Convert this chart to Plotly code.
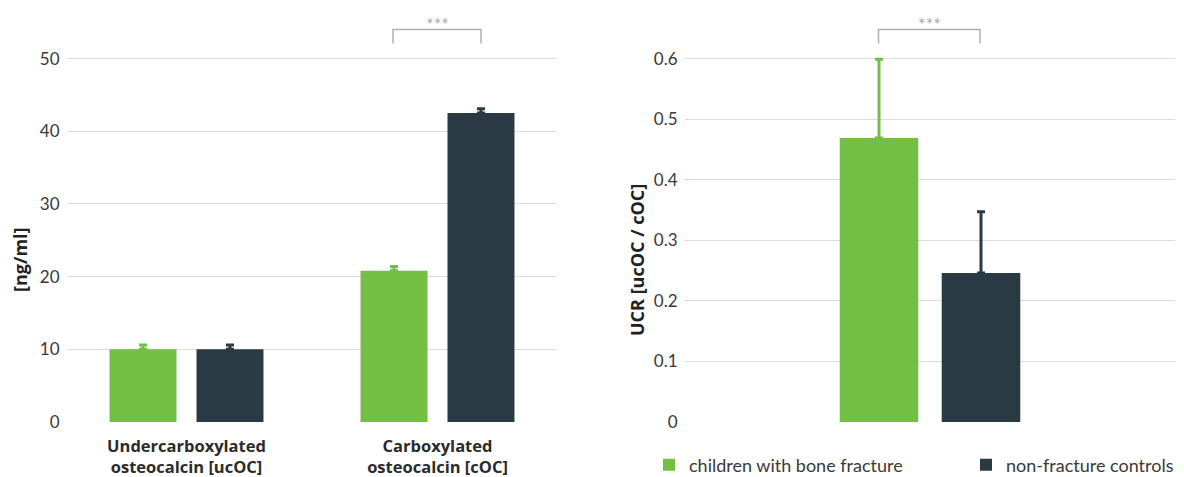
import plotly.graph_objects as go

# ---- data ----
categories_left = ["Undercarboxylated<br>osteocalcin [ucOC]", "Carboxylated<br>osteocalcin [cOC]"]
fracture_ngml = [10.0, 20.8]
fracture_ngml_err = [0.6, 0.6]
control_ngml = [10.0, 42.5]
control_ngml_err = [0.6, 0.6]

categories_right = ["UCR"]
fracture_ucr = [0.469]
fracture_ucr_err = [0.130]
control_ucr = [0.246]
control_ucr_err = [0.101]

series_names = ["children with bone fracture", "non-fracture controls"]
left_ticks = [0, 10, 20, 30, 40, 50]
right_ticks = [0, 0.1, 0.2, 0.3, 0.4, 0.5, 0.6]
right_ticktext = ["0", "0.1", "0.2", "0.3", "0.4", "0.5", "0.6"]

GREEN = "#72bf44"
DARK = "#2a3a45"
GRID = "#dcdcdc"
TEXT = "#3a3a3a"
FONT = "Lato"
BOLD_FONT = "Open Sans"

# page offset (default 8px body margin of the html page)
OFF = 8
W, H = 1184 - OFF, 477 - OFF
PLOT_TOP, PLOT_BOTTOM = 10, 422          # page pixels
H_PLOT = PLOT_BOTTOM - PLOT_TOP

def fx(x):
    return (x - OFF) / W

def fy(y):
    return (PLOT_BOTTOM - y) / H_PLOT

px_left = (421.7 - 58.3) / 50      # px per ng/ml
px_right = (421.7 - 58.3) / 0.6   # px per UCR unit

fig = go.Figure()

def add_bar(x, y, err, name, color, xa, ya, show):
    fig.add_trace(go.Bar(
        x=x, y=y, name=name, marker=dict(color=color, line=dict(width=0)),
        error_y=dict(type="data", array=err, arrayminus=[0] * len(err), symmetric=False,
                     color=color, thickness=3, width=4),
        xaxis=xa, yaxis=ya, showlegend=show, legendgroup=name,
    ))

add_bar(categories_left, fracture_ngml, fracture_ngml_err, series_names[0], GREEN, "x", "y", True)
add_bar(categories_left, control_ngml, control_ngml_err, series_names[1], DARK, "x", "y", True)
add_bar(categories_right, fracture_ucr, fracture_ucr_err, series_names[0], GREEN, "x2", "y2", False)
add_bar(categories_right, control_ucr, control_ucr_err, series_names[1], DARK, "x2", "y2", False)

axis_common = dict(showline=False, zeroline=False, showgrid=True, gridcolor=GRID, gridwidth=1.3,
                   automargin=False, ticks="outside", ticklen=3, tickcolor="rgba(0,0,0,0)",
                   tickfont=dict(family=FONT, size=17, color=TEXT))

# left category axis: centres at page x 186.5 and 437.5
L0, L1 = 67, 557
unit_l = 251.0
R0, R1 = 685, 1175
bargap = 0.307
unit_r = 204.0 / (1 - bargap)
half_r = (R1 - R0) / 2 / unit_r

fig.update_layout(
    template="none",
    width=W, height=H,
    margin=dict(l=0, r=0, t=PLOT_TOP - OFF, b=H - (PLOT_BOTTOM - OFF), autoexpand=False),
    paper_bgcolor="white", plot_bgcolor="white",
    barmode="group",
    font=dict(family=FONT, color=TEXT),
    xaxis=dict(domain=[fx(L0), fx(L1)], range=[-(186.5 - L0) / unit_l, 1 + (L1 - 437.5) / unit_l],
               showgrid=False, showline=False, zeroline=False, automargin=False,
               tickfont=dict(family=BOLD_FONT, size=16.5, color="#2b2b2b", weight="bold"),
               ticks="outside", ticklen=9, tickcolor="rgba(0,0,0,0)"),
    yaxis=dict(range=[0, H_PLOT / px_left], tickvals=left_ticks, **axis_common),
    xaxis2=dict(domain=[fx(R0), fx(R1)], range=[-half_r, half_r],
                showgrid=False, showline=False, zeroline=False,
                automargin=False, showticklabels=False, anchor="y2"),
    yaxis2=dict(range=[0, H_PLOT / px_right], tickvals=right_ticks, ticktext=right_ticktext,
                anchor="x2", **axis_common),
    bargap=bargap, bargroupgap=0.23,
    legend=dict(orientation="h", x=fx(649), xanchor="left", xref="paper",
                y=fy(465), yanchor="middle",
                font=dict(family=FONT, size=18, color=TEXT),
                entrywidth=272, entrywidthmode="pixels", itemwidth=30,
                bgcolor="rgba(0,0,0,0)"),
)

# y-axis titles
fig.add_annotation(text="[ng/ml]", xref="paper", yref="paper", x=fx(20), y=fy(260),
                   xanchor="center", yanchor="middle", textangle=-90, showarrow=False,
                   font=dict(family=BOLD_FONT, size=18, color="#222", weight="bold"))
fig.add_annotation(text="UCR [ucOC / cOC]", xref="paper", yref="paper", x=fx(637), y=fy(260),
                   xanchor="center", yanchor="middle", textangle=-90, showarrow=False,
                   font=dict(family=BOLD_FONT, size=18, color="#222", weight="bold"))

# significance brackets
def bracket(x0, x1):
    ylo, yhi = fy(43.5), fy(29.5)
    fig.add_shape(type="path", xref="paper", yref="paper",
                  path=f"M {fx(x0)},{ylo} L {fx(x0)},{yhi} L {fx(x1)},{yhi} L {fx(x1)},{ylo}",
                  line=dict(color="#b0b0b0", width=1.5))
    fig.add_annotation(text="***", xref="paper", yref="paper", x=fx((x0 + x1) / 2), y=fy(24),
                       xanchor="center", yanchor="middle", showarrow=False,
                       font=dict(family=FONT, size=18, color="#a8a8a8"))

bracket(393, 481)
bracket(878.5, 980)

fig.write_html("out.html")
